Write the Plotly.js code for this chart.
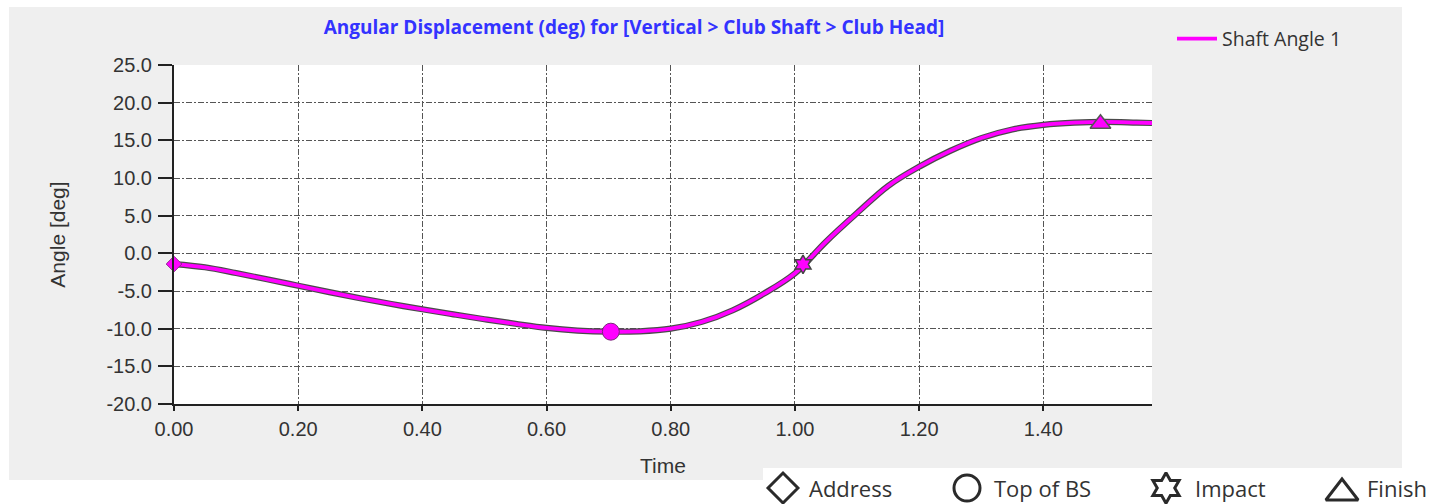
<!DOCTYPE html>
<html><head><meta charset="utf-8">
<script src="https://cdn.plot.ly/plotly-3.0.1.min.js"></script>
<style>html,body{margin:0;padding:0;background:#fff;}#chart{width:1444px;height:504px;}</style>
</head><body><div id="chart"></div>
<script>
// ---- data ----
const time = [0,0.05,0.1,0.15,0.2,0.25,0.3,0.35,0.4,0.45,0.5,0.55,0.6,0.65,0.7,0.75,0.8,0.85,0.9,0.95,1.0,1.05,1.1,1.15,1.2,1.25,1.3,1.35,1.4,1.45,1.5,1.55,1.575];
const angle = [-1.42,-1.85,-2.62,-3.45,-4.3,-5.15,-5.97,-6.72,-7.43,-8.1,-8.75,-9.35,-9.9,-10.25,-10.4,-10.35,-10.0,-9.1,-7.55,-5.35,-2.65,1.55,5.35,8.95,11.5,13.6,15.3,16.45,17.05,17.35,17.45,17.35,17.3];
const seriesName = 'Shaft Angle 1';
const eventNames = ['Address','Top of BS','Impact','Finish'];
const eventTimes = [0, 0.7035, 1.013, 1.492];
const eventAngles = [-1.42, -10.4, -1.46, 17.2];
const eventSymbols = ['diamond','circle','hexagram','triangle-up'];
const xTickVals = [0,0.2,0.4,0.6,0.8,1.0,1.2,1.4];
const yTickVals = [-20,-15,-10,-5,0,5,10,15,20,25];
const chartTitle = 'Angular Displacement (deg) for [Vertical > Club Shaft > Club Head]';
const xTitle = 'Time';
const yTitle = 'Angle [deg]';

// ---- layout geometry (pixels) ----
const W = 1444, H = 504;
const L = 174, R = 1152, T = 65, B = 404;
const px = x => x / W;
const py = y => 1 - y / H;

const axisFont = {family: 'Liberation Sans, Arial, sans-serif', size: 20, color: '#333'};
const uiFont = 'Open Sans, Noto Sans, sans-serif';
const MAG = '#FF00FF';

const traces = [
  {x: time, y: angle, mode: 'lines', showlegend: false, hoverinfo: 'skip',
   line: {color: '#4a4a4a', width: 6.2, shape: 'spline', smoothing: 1}},
  {x: time, y: angle, mode: 'lines', name: seriesName,
   line: {color: MAG, width: 3.8, shape: 'spline', smoothing: 1}},
  {x: eventTimes, y: eventAngles, mode: 'markers', showlegend: false, cliponaxis: false,
   text: eventNames,
   marker: {symbol: eventSymbols, size: [12, 17, 14, 18], color: MAG, opacity: 1,
            line: {color: ['#8a2a8a', '#7a2a7a', '#444', '#555'], width: [1, 1, 1.5, 1.5]}}}
];

// bottom marker key: glyphs placed in a hidden full-page pixel subplot
const keyX = [783, 967, 1166, 1342];
const keyY = [488, 488, 488, 493];
const keyTextX = [807, 992, 1193, 1365];
traces.push({
  x: keyX, y: keyY, xaxis: 'x2', yaxis: 'y2', mode: 'markers', showlegend: false,
  cliponaxis: false, hoverinfo: 'skip',
  marker: {symbol: eventSymbols.map(s => s + '-open'), size: [23, 26, 23, 28], color: '#2a2a2a', opacity: 1,
           line: {color: '#2a2a2a', width: 3}}
});

const annotations = eventNames.map((n, i) => ({
  text: n, xref: 'paper', yref: 'paper', x: px(keyTextX[i]), y: py(488),
  xanchor: 'left', yanchor: 'middle', showarrow: false,
  font: {family: uiFont, size: 22, color: '#333'}
}));

const gridStyle = {showgrid: true, gridcolor: '#555555', gridwidth: 1, griddash: '6px,2px,2px,2px'};

const layout = {
  width: W, height: H,
  margin: {l: 0, r: 0, t: 0, b: 0, pad: 0},
  paper_bgcolor: '#ffffff', plot_bgcolor: 'rgba(0,0,0,0)',
  title: {text: chartTitle, xref: 'paper', x: px(634), xanchor: 'center',
          yref: 'container', y: py(27), yanchor: 'middle',
          font: {family: uiFont, size: 19, weight: 700, color: '#3333FF'}},
  xaxis: Object.assign({
    domain: [px(L), px(R)], anchor: 'y',
    range: [0, 1.575], tickmode: 'array', tickvals: xTickVals,
    ticktext: xTickVals.map(v => v.toFixed(2)),
    showline: true, linecolor: '#222', linewidth: 2, zeroline: false,
    ticks: 'outside', ticklen: 5, tickwidth: 2, tickcolor: '#222',
    tickfont: axisFont, ticklabelstandoff: 1, automargin: false,
    title: {text: xTitle, font: {family: axisFont.family, size: 21, color: '#333'}, standoff: 19}
  }, gridStyle),
  yaxis: Object.assign({
    domain: [py(B), py(T)], anchor: 'x',
    range: [-20, 25], tickmode: 'array', tickvals: yTickVals,
    ticktext: yTickVals.map(v => v.toFixed(1)),
    showline: true, linecolor: '#222', linewidth: 2, zeroline: false,
    ticks: 'outside', ticklen: 14, tickwidth: 2, tickcolor: '#222',
    tickfont: axisFont, ticklabelstandoff: 2, automargin: false,
    title: {text: yTitle, font: {family: axisFont.family, size: 21, color: '#333'}, standoff: 35}
  }, gridStyle),
  xaxis2: {domain: [0, 1], anchor: 'y2', range: [0, W], visible: false, fixedrange: true},
  yaxis2: {domain: [0, 1], anchor: 'x2', range: [H, 0], visible: false, fixedrange: true},
  showlegend: true,
  legend: {x: px(1172), y: py(39), xanchor: 'left', yanchor: 'middle',
           bgcolor: 'rgba(0,0,0,0)', itemwidth: 40,
           font: {family: uiFont, size: 19.5, color: '#333'}},
  shapes: [
    {type: 'rect', xref: 'paper', yref: 'paper', layer: 'below',
     x0: px(9), x1: px(1402), y0: py(480), y1: py(7), fillcolor: '#EFEFEF', line: {width: 0}},
    {type: 'rect', xref: 'paper', yref: 'paper', layer: 'below',
     x0: px(763), x1: 1, y0: 0, y1: py(468), fillcolor: '#ffffff', line: {width: 0}},
    {type: 'rect', xref: 'x domain', yref: 'y domain', layer: 'below',
     x0: 0, x1: 1, y0: 0, y1: 1, fillcolor: '#ffffff', line: {width: 0}}
  ],
  annotations: annotations
};

Plotly.newPlot('chart', traces, layout, {staticPlot: true, displayModeBar: false});
</script>
</body></html>
